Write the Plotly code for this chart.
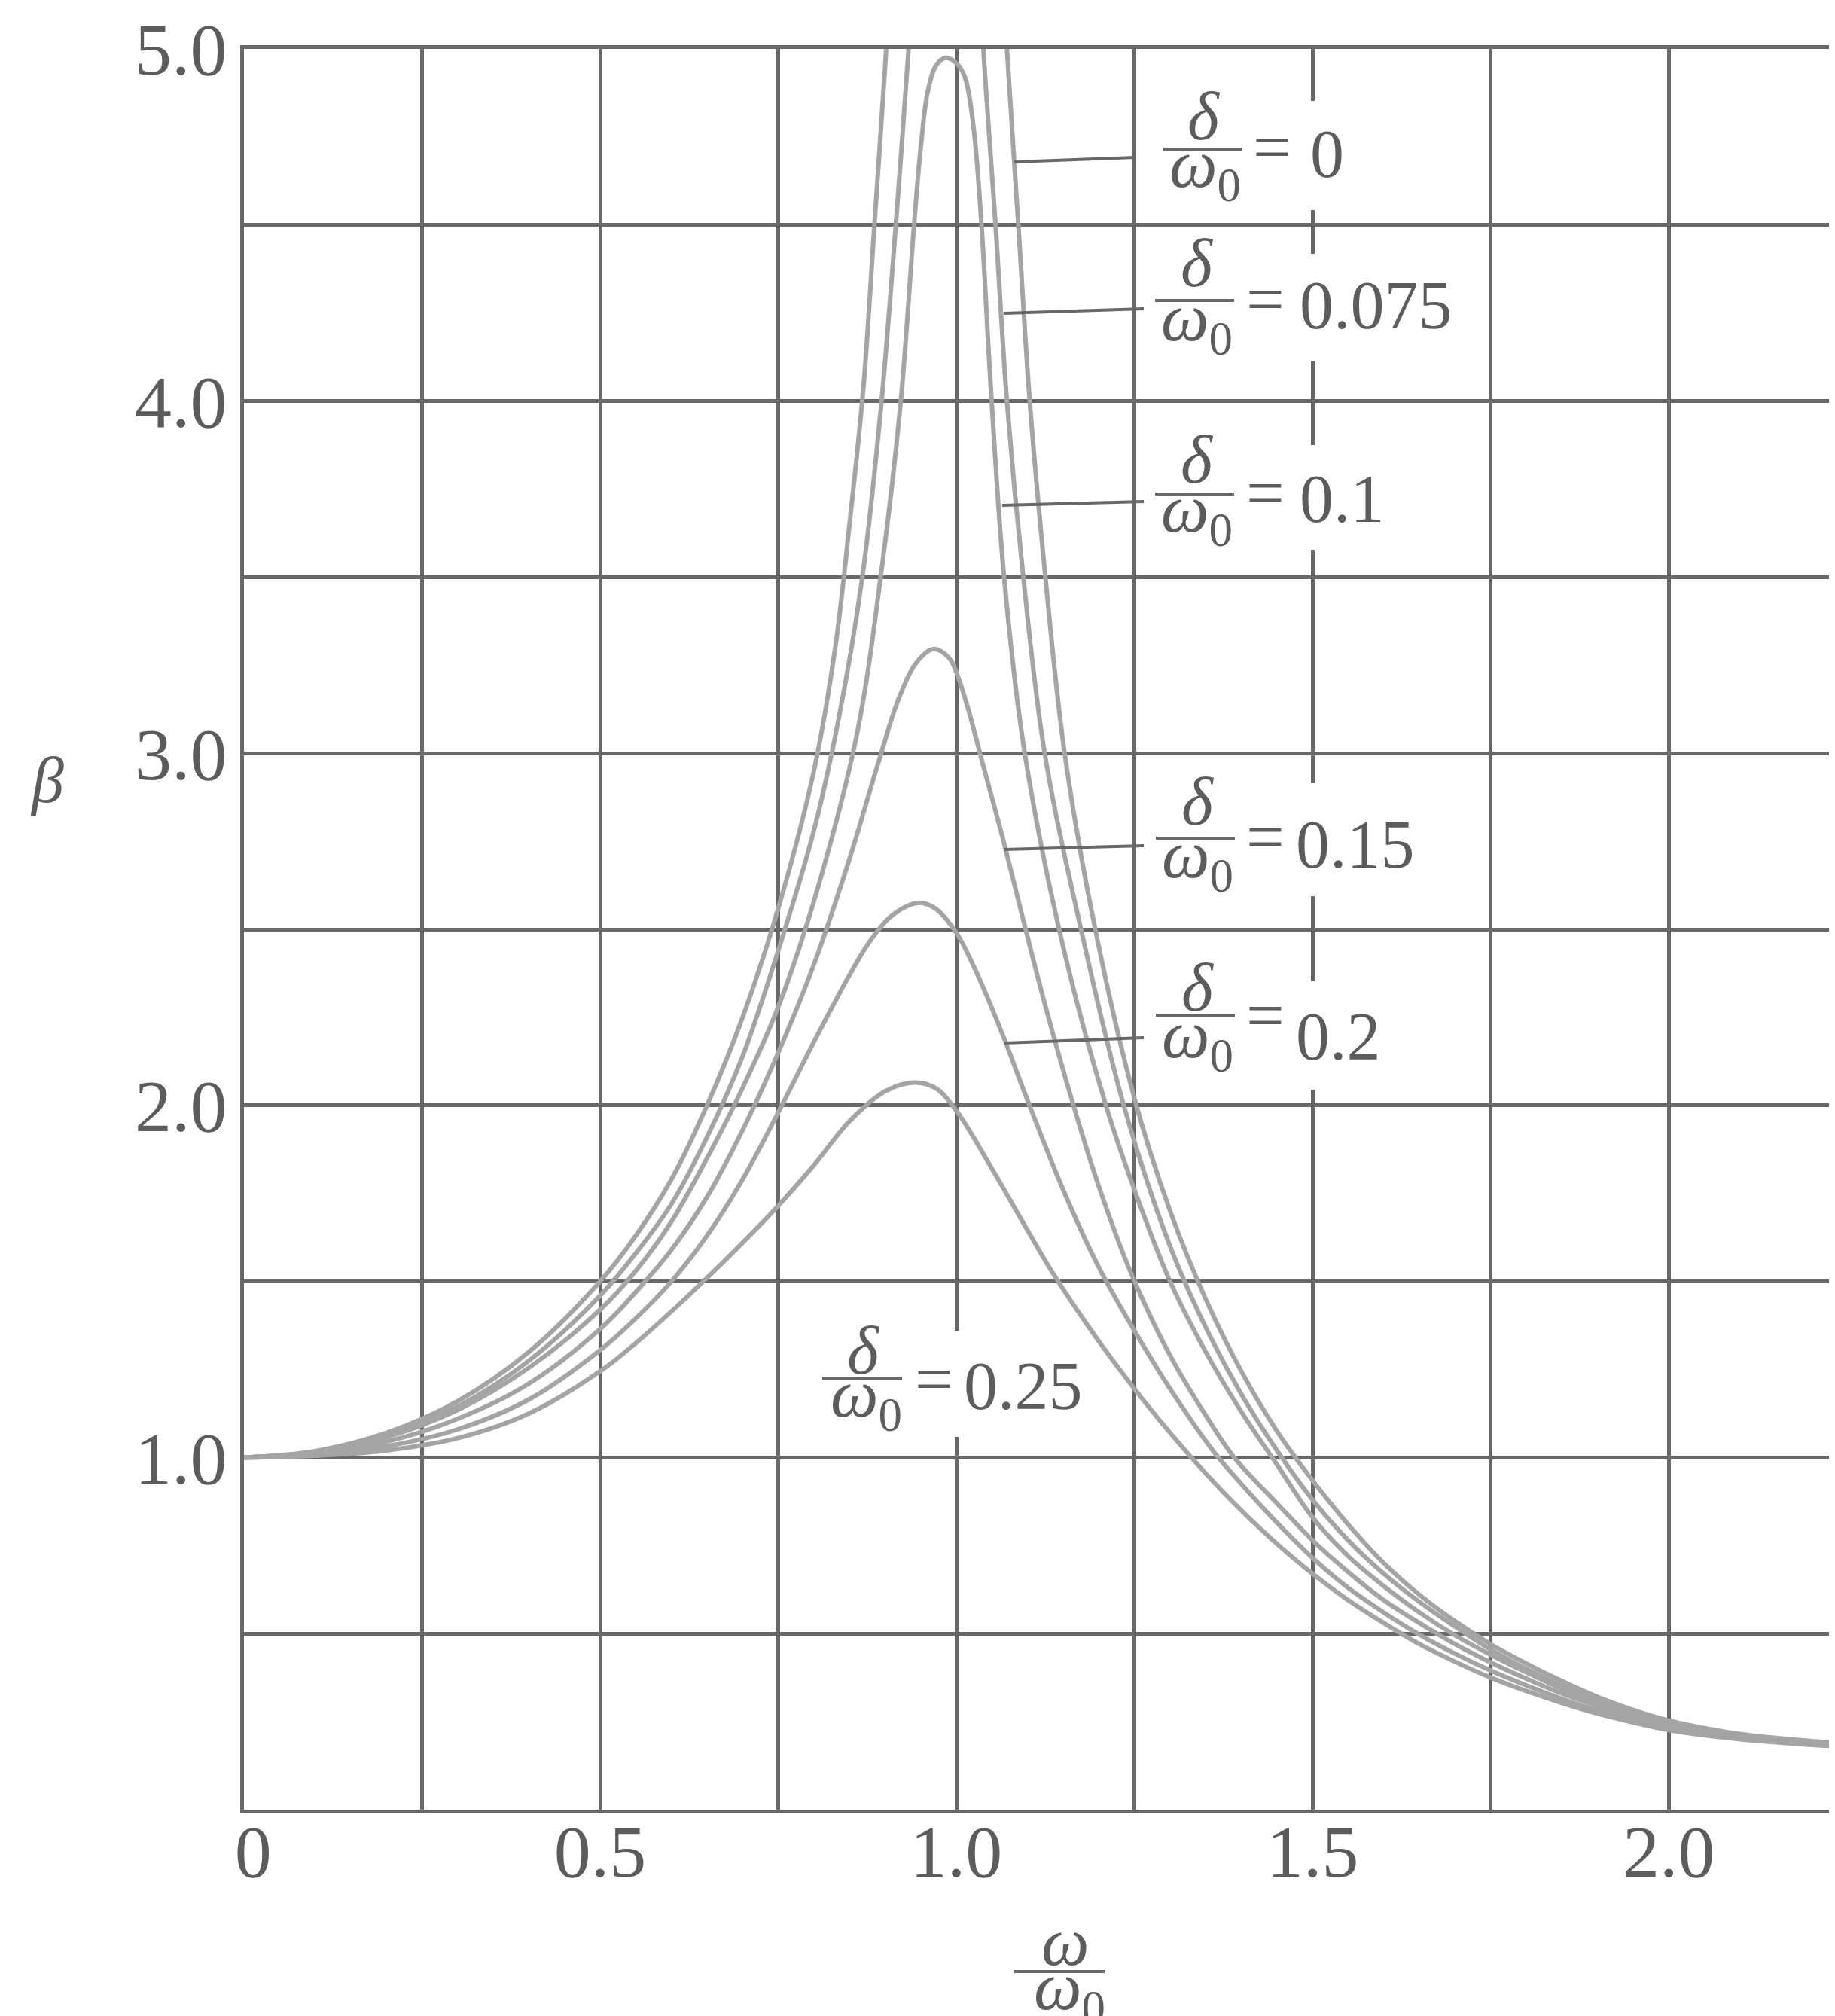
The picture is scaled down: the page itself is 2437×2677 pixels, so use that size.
import plotly.graph_objects as go

# ---------------- data ----------------
delta_labels = ["0", "0.075", "0.1", "0.15", "0.2", "0.25"]

x_d0 = [0, 0.1, 0.2, 0.3, 0.4, 0.5, 0.55, 0.6, 0.65, 0.7, 0.75, 0.8, 0.83, 0.85, 0.87, 0.885, 0.9, 0.906, None,
        1.065, 1.071, 1.087, 1.103, 1.125, 1.152, 1.195, 1.25, 1.3, 1.35, 1.4, 1.45, 1.5, 1.55, 1.6, 1.65, 1.7, 1.75,
        1.8, 1.85, 1.9, 1.95, 2.0, 2.1, 2.233]
beta_d0 = [1.0, 1.018, 1.07, 1.16, 1.30, 1.50, 1.63, 1.79, 2.0, 2.25, 2.56, 2.95, 3.3, 3.65, 4.05, 4.5, 4.95, 5.15, None,
           5.2, 5.0, 4.5, 4.0, 3.5, 3.0, 2.5, 2.02, 1.70, 1.45, 1.245, 1.075, 0.935, 0.81, 0.70, 0.61, 0.535, 0.47,
           0.415, 0.365, 0.32, 0.283, 0.253, 0.215, 0.19]

x_d075 = [0, 0.1, 0.2, 0.3, 0.4, 0.5, 0.55, 0.6, 0.65, 0.7, 0.75, 0.8, 0.835, 0.868, 0.895, 0.915, 0.933, 0.94, None,
          1.034, 1.038, 1.055, 1.071, 1.094, 1.124, 1.175, 1.235, 1.3, 1.35, 1.4, 1.45, 1.5, 1.55, 1.6, 1.65, 1.7,
          1.75, 1.8, 1.85, 1.9, 1.95, 2.0, 2.1, 2.233]
beta_d075 = [1.0, 1.016, 1.062, 1.145, 1.275, 1.46, 1.58, 1.72, 1.91, 2.14, 2.44, 2.78, 3.1, 3.5, 4.0, 4.5, 5.0, 5.2, None,
             5.2, 5.0, 4.5, 4.0, 3.5, 3.0, 2.5, 2.0, 1.6, 1.37, 1.18, 1.02, 0.88, 0.765, 0.67, 0.59, 0.52,
             0.455, 0.40, 0.352, 0.31, 0.275, 0.247, 0.212, 0.188]

x_d1 = [0, 0.1, 0.2, 0.3, 0.4, 0.5, 0.55, 0.6, 0.65, 0.7, 0.75, 0.8, 0.86, 0.895, 0.922, 0.941, 0.95, 0.96, 0.972,
        0.985, 1.0, 1.012, 1.024, 1.035, 1.048, 1.067, 1.096, 1.15, 1.21, 1.25, 1.3, 1.35, 1.4, 1.45, 1.5, 1.55,
        1.6, 1.65, 1.7, 1.75, 1.8, 1.85, 1.9, 1.95, 2.0, 2.1, 2.233]
beta_d1 = [1.0, 1.015, 1.058, 1.135, 1.255, 1.42, 1.53, 1.67, 1.85, 2.05, 2.28, 2.58, 3.05, 3.52, 4.0, 4.51, 4.72, 4.88,
           4.955, 4.975, 4.96, 4.92, 4.78, 4.51, 4.05, 3.5, 3.0, 2.45, 2.0, 1.76, 1.5, 1.3, 1.13, 0.98, 0.83, 0.72,
           0.635, 0.56, 0.495, 0.44, 0.39, 0.343, 0.302, 0.27, 0.242, 0.21, 0.186]

x_d15 = [0, 0.1, 0.2, 0.3, 0.4, 0.5, 0.55, 0.6, 0.65, 0.7, 0.75, 0.8, 0.85, 0.89, 0.92, 0.945, 0.968, 0.99, 1.0, 1.016,
         1.037, 1.065, 1.091, 1.12, 1.16, 1.2, 1.246, 1.3, 1.35, 1.39, 1.45, 1.5, 1.55, 1.6, 1.65, 1.7, 1.75, 1.8,
         1.85, 1.9, 1.95, 2.0, 2.1, 2.233]
beta_d15 = [1.0, 1.012, 1.045, 1.11, 1.21, 1.365, 1.47, 1.59, 1.74, 1.93, 2.15, 2.40, 2.70, 2.97, 3.16, 3.26, 3.296, 3.27,
            3.23, 3.13, 2.97, 2.76, 2.55, 2.32, 2.03, 1.77, 1.52, 1.29, 1.12, 1.0, 0.87, 0.765, 0.675, 0.595, 0.53,
            0.47, 0.418, 0.372, 0.33, 0.295, 0.263, 0.237, 0.207, 0.184]

x_d2 = [0, 0.1, 0.2, 0.3, 0.4, 0.5, 0.55, 0.6, 0.65, 0.7, 0.75, 0.8, 0.85, 0.88, 0.91, 0.946, 0.97, 1.0, 1.03, 1.067,
        1.095, 1.15, 1.2, 1.25, 1.3, 1.36, 1.4, 1.45, 1.5, 1.55, 1.6, 1.65, 1.7, 1.75, 1.8, 1.85, 1.9, 1.95, 2.0,
        2.1, 2.233]
beta_d2 = [1.0, 1.008, 1.032, 1.08, 1.165, 1.305, 1.395, 1.50, 1.63, 1.79, 1.98, 2.18, 2.37, 2.47, 2.54, 2.575, 2.56,
           2.49, 2.37, 2.19, 2.04, 1.76, 1.54, 1.36, 1.195, 1.02, 0.925, 0.815, 0.715, 0.63, 0.56, 0.497, 0.443,
           0.395, 0.353, 0.315, 0.282, 0.255, 0.232, 0.205, 0.182]

x_d25 = [0, 0.1, 0.2, 0.3, 0.4, 0.5, 0.55, 0.6, 0.65, 0.7, 0.75, 0.8, 0.85, 0.9, 0.94, 0.97, 1.0, 1.05, 1.1, 1.135,
         1.2, 1.25, 1.3, 1.35, 1.4, 1.45, 1.5, 1.55, 1.6, 1.65, 1.7, 1.75, 1.8, 1.85, 1.9, 1.95, 2.0, 2.1, 2.233]
beta_d25 = [1.0, 1.005, 1.02, 1.055, 1.125, 1.245, 1.325, 1.415, 1.51, 1.61, 1.715, 1.83, 1.955, 2.04, 2.065, 2.05,
            1.985, 1.82, 1.645, 1.525, 1.33, 1.195, 1.07, 0.955, 0.85, 0.755, 0.67, 0.595, 0.53, 0.47, 0.42, 0.375,
            0.337, 0.303, 0.273, 0.248, 0.226, 0.2, 0.18]

x_major = [0, 0.5, 1.0, 1.5, 2.0]
x_major_text = ["\u00a00", "0.5", "1.0", "1.5", "2.0"]
x_minor = [0.25, 0.75, 1.25, 1.75]
y_major = [1.0, 2.0, 3.0, 4.0, 5.0]
y_major_text = ["1.0", "2.0", "3.0", "4.0", "5.0"]
y_minor = [0.5, 1.5, 2.5, 3.5, 4.5]

# ---------------- styling / layout ----------------
FONT = "Liberation Serif"
TXT = "#5c5c5c"
GRID = "#686868"
CURVE = "#a4a4a4"
W, H = 2437, 2677
BODY = 8                      # default page margin of the html body
X0, Y0 = 324, 2403            # page pixel of the origin
PXX, PXY = 946.1, 467.6       # page pixels per data unit
ML = X0 - BODY
MT = 65 - BODY
PLOT_H = 5 * PXY
MB = H - MT - PLOT_H
XMAX = (W - ML) / PXX


def dx(px):
    return (px - X0) / PXX


def dy(py):
    return (Y0 - py) / PXY


def px_paper(px):
    return dx(px) / XMAX


def py_paper(py):
    return dy(py) / 5.0


fig = go.Figure()
series = [(x_d0, beta_d0), (x_d075, beta_d075), (x_d1, beta_d1),
          (x_d15, beta_d15), (x_d2, beta_d2), (x_d25, beta_d25)]
for (xs, bs), lab in zip(series, delta_labels):
    fig.add_trace(go.Scatter(x=xs, y=bs, mode="lines", name=lab, showlegend=False,
                             line=dict(color=CURVE, width=6, shape="spline", smoothing=1.0),
                             hoverinfo="skip"))

tf = dict(family=FONT, size=98, color=TXT)
fig.update_xaxes(range=[0, XMAX], tickmode="array", tickvals=x_major, ticktext=x_major_text,
                 showgrid=True, gridcolor=GRID, gridwidth=4.5, zeroline=False,
                 minor=dict(tickvals=x_minor, showgrid=True, gridcolor=GRID, gridwidth=4.5, ticks=""),
                 showline=True, linecolor=GRID, linewidth=5, mirror=True,
                 ticks="", tickfont=tf, ticklabelstandoff=-34)
fig.update_yaxes(range=[0, 5], tickmode="array", tickvals=y_major, ticktext=y_major_text,
                 showgrid=True, gridcolor=GRID, gridwidth=4.5, zeroline=False,
                 minor=dict(tickvals=y_minor, showgrid=True, gridcolor=GRID, gridwidth=4.5, ticks=""),
                 showline=True, linecolor=GRID, linewidth=5, mirror=False,
                 ticks="", tickfont=tf, ticklabelstandoff=-2)

# label layout (pixel positions of the reference page)
labels = [
    dict(v=delta_labels[0], d=(1599, 149), bar=(1545, 1650, 198), w=(1600, 236), eq=(1662, 200), val=(1738, 201),
         lead=((1347, 215), (1508, 209)), gap=(1.5, 134, 279)),
    dict(v=delta_labels[1], d=(1590, 343), bar=(1534, 1639, 399), w=(1589, 440), eq=(1653, 401), val=(1724, 401),
         lead=((1333, 416), (1519, 410)), gap=(1.5, 337, 480)),
    dict(v=delta_labels[2], d=(1590, 604), bar=(1534, 1639, 656), w=(1589, 694), eq=(1653, 658), val=(1724, 658),
         lead=((1331, 671), (1519, 666)), gap=(1.5, 591, 730)),
    dict(v=delta_labels[3], d=(1591, 1058), bar=(1535, 1640, 1113), w=(1590, 1153), eq=(1653, 1115), val=(1719, 1117),
         lead=((1334, 1128), (1519, 1123)), gap=(1.5, 1040, 1190)),
    dict(v=delta_labels[4], d=(1591, 1305), bar=(1535, 1640, 1348), w=(1590, 1392), eq=(1653, 1352), val=(1719, 1372),
         lead=((1334, 1385), (1519, 1378)), gap=(1.5, 1303, 1447)),
    dict(v=delta_labels[5], d=(1147, 1787), bar=(1092, 1198, 1830), w=(1150, 1869), eq=(1213, 1835), val=(1278, 1836),
         lead=None, gap=(1.0, 1767, 1908)),
]

LF = 90  # label font size
shapes = []
for L in labels:
    g, top, bot = L["gap"]
    shapes.append(dict(type="rect", xref="x", yref="y", x0=g - 0.012, x1=g + 0.012,
                       y0=dy(bot), y1=dy(top), fillcolor="white", line=dict(width=0), layer="above"))
for L in labels:
    x0, x1, yb = L["bar"]
    shapes.append(dict(type="line", xref="paper", yref="paper", x0=px_paper(x0), x1=px_paper(x1),
                       y0=py_paper(yb), y1=py_paper(yb), line=dict(color=GRID, width=4), layer="above"))
    if L["lead"]:
        (ax, ay), (bx, by) = L["lead"]
        shapes.append(dict(type="line", xref="paper", yref="paper", x0=px_paper(ax), y0=py_paper(ay),
                           x1=px_paper(bx), y1=py_paper(by), line=dict(color=GRID, width=4), layer="above"))
# x-axis title fraction bar
shapes.append(dict(type="line", xref="paper", yref="paper", x0=px_paper(1347), x1=px_paper(1467),
                   y0=py_paper(2618), y1=py_paper(2618), line=dict(color=GRID, width=4), layer="above"))

anns = []


def ann(px, py, text, size, xanchor="center", yshift=0):
    anns.append(dict(x=px_paper(px), y=py_paper(py), xref="paper", yref="paper", text=text, showarrow=False,
                     font=dict(family=FONT, size=size, color=TXT), xanchor=xanchor, yanchor="middle",
                     yshift=yshift))


for L in labels:
    ann(L["d"][0], L["d"][1], "<i>δ</i>", LF, yshift=-6)
    ann(L["w"][0], L["w"][1], "<i>ω</i><sub>0</sub>", LF, yshift=12)
    ann(L["eq"][0], L["eq"][1], "=", LF, xanchor="left", yshift=4)
    ann(L["val"][0], L["val"][1], L["v"], LF, xanchor="left", yshift=-4)

# axis titles
ann(63, 1036, "<i>β</i>", 86)
ann(1415, 2590, "<i>ω</i>", LF, yshift=12)
ann(1420, 2656, "<i>ω</i><sub>0</sub>", LF, yshift=12)

fig.update_layout(width=W, height=H, autosize=False,
                  margin=dict(l=ML, r=0, t=MT, b=MB, pad=0),
                  paper_bgcolor="white", plot_bgcolor="white",
                  shapes=shapes, annotations=anns, showlegend=False)

fig.write_html("out.html")
